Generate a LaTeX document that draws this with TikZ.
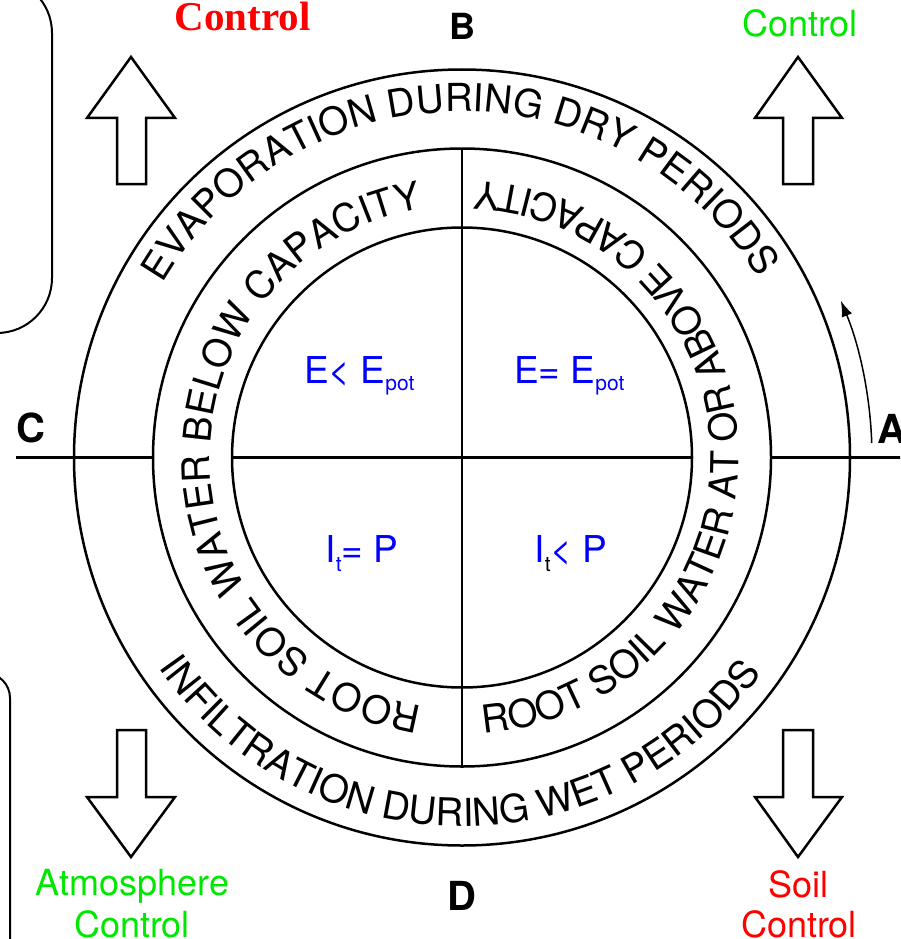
\documentclass[tikz,border=0pt]{standalone}
\usepackage{fontspec}
\setmainfont{TeX Gyre Heros}
\newfontfamily\serifbold{Liberation Serif}
\usetikzlibrary{decorations.text,arrows.meta}
\definecolor{ctrlgreen}{RGB}{0,232,0}
\definecolor{ctrlred}{RGB}{255,0,0}
\definecolor{qblue}{RGB}{0,0,255}
\newcommand\ringfont{\fontsize{38.5}{40}\selectfont}
\newcommand\quadfont{\fontsize{37}{40}\selectfont}
\newcommand\subfont{\fontsize{21}{22}\selectfont}
\newcommand\ctrlfont{\fontsize{36}{42}\selectfont}
\newcommand\letterfont{\fontsize{40}{44}\selectfont\bfseries}
\begin{document}
\begin{tikzpicture}[x=1pt,y=1pt,
  ring/.style={line width=2.5pt},
  blockarrow/.style={line width=2.5pt, line join=miter, fill=white},
  frame/.style={line width=2pt, draw=black},
  ringtext/.style={decorate, decoration={text along path, text align=center, text={#1}}},
  ctrl/.style={anchor=base, inner sep=0, font=\ctrlfont},
  letter/.style={anchor=base, inner sep=0, font=\letterfont},
  quad/.style={anchor=base west, inner sep=0, text=qblue, font=\quadfont}
]
\useasboundingbox (0,0) rectangle (900,-939);
\clip (0,0) rectangle (900,-939);

% side frames
\draw[frame, rounded corners=55] (-200,22) rectangle (52,-333);
\draw[frame, rounded corners=25] (-200,-673) rectangle (10,-1000);

% block arrows
\draw[blockarrow] (131,-57) -- (175,-118) -- (146,-118) -- (146,-184) -- (117,-184) -- (117,-118) -- (87,-118) -- cycle;
\draw[blockarrow] (798,-57) -- (842,-118) -- (813,-118) -- (813,-184) -- (783,-184) -- (783,-118) -- (755,-118) -- cycle;
\draw[blockarrow] (117,-730) -- (146,-730) -- (146,-797) -- (175,-797) -- (131,-857) -- (87,-797) -- (117,-797) -- cycle;
\draw[blockarrow] (783,-730) -- (813,-730) -- (813,-797) -- (842,-797) -- (798,-857) -- (755,-797) -- (783,-797) -- cycle;

\begin{scope}[shift={(462,-457.5)}]
  \draw[ring] (0,0) circle[radius=388];
  \draw[ring] (0,0) circle[radius=309];
  \draw[ring] (0,0) circle[radius=230];
  \draw[ring] (-446,0) -- (-309,0);
  \draw[ring] (-230,0) -- (230,0);
  \draw[ring] (309,0) -- (440,0);
  \draw[ring] (0,309) -- (0,-309);

  % ring texts
  \path[ringtext={|\ringfont|EVAPORATION DURING DRY PERIODS}]
    (181:346) arc[start angle=181, end angle=0, radius=346];
  \path[ringtext={|\ringfont|INFILTRATION DURING WET PERIODS}]
    (179.5:369) arc[start angle=179.5, end angle=359.5, radius=369];
  \path[ringtext={|\ringfont|ROOT SOIL WATER BELOW CAPACITY}]
    (270:252) arc[start angle=270, end angle=90, radius=252];
  \path[ringtext={|\ringfont|ROOT SOIL WATER AT OR ABOVE CAPACITY}]
    (-89.2:277) arc[start angle=-89.2, end angle=90.8, radius=277];

  % curved arrow near A
  \coordinate (arrS) at (2:410);
  \draw[line width=1.5pt, -{Latex[length=16pt,width=11pt]}] (arrS) arc[start angle=2, end angle=22.5, radius=410];
\end{scope}

% corner letters
\node[letter] (lA) at (892,-443) {A};
\node[letter, font=\fontsize{36}{40}\selectfont\bfseries] (lB) at (462,-40) {B};
\node[letter] (lC) at (30.5,-442) {C};
\node[letter] (lD) at (462,-910) {D};

% quadrant formulas
\node[quad] (q1) at (304,-383) {E< E\raisebox{-7pt}{\subfont pot}};
\node[quad] (q2) at (514,-383) {E= E\raisebox{-7pt}{\subfont pot}};
\node[quad] (q3) at (325.5,-562) {I\raisebox{-9pt}{\subfont t}= P};
\node[quad] (q4) at (534.5,-562) {I\raisebox{-9pt}{\color{black}\subfont t}< P};

% control labels
\node[anchor=base, inner sep=0, text=ctrlred, font={\serifbold\bfseries\fontsize{41}{44}\selectfont}] (ctlTL) at (242.5,-31) {Control};
\node[ctrl, text=ctrlgreen] (ctlTR) at (800,-36.5) {Control};
\node[ctrl, text=ctrlgreen] (atmBL) at (132.5,-895) {Atmosphere};
\node[ctrl, text=ctrlgreen] (ctlBL) at (132,-937) {Control};
\node[ctrl, text=ctrlred] (soilBR) at (798.5,-897) {Soil};
\node[ctrl, text=ctrlred] (ctlBR) at (799,-937) {Control};
\end{tikzpicture}
\end{document}
